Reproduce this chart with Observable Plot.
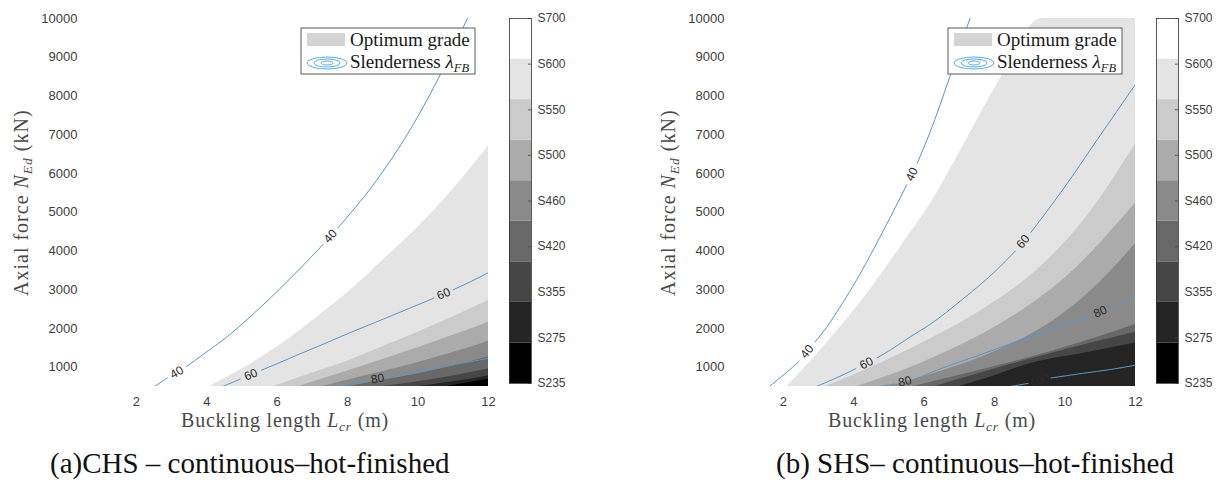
<!DOCTYPE html>
<html><head><meta charset="utf-8">
<script src="https://cdn.jsdelivr.net/npm/d3@7"></script>
<script src="https://cdn.jsdelivr.net/npm/@observablehq/plot@0.6"></script>
<style>
body{margin:0;background:#fff;}
#root{position:relative;width:1223px;height:480px;overflow:hidden;}
.abs{position:absolute;top:0;}
</style></head><body><div id="root"></div>
<script>
// ---------- data ----------
const lengthTicks = [2, 4, 6, 8, 10, 12];
const forceTicks = [1000, 2000, 3000, 4000, 5000, 6000, 7000, 8000, 9000, 10000];
const gradeLabels = ["S235","S275","S355","S420","S460","S500","S550","S600","S700"];
const gradeGreys = ["#000000","#242424","#464646","#686868","#8a8a8a","#ababab","#cbcbcb","#e4e4e4","#ffffff"];

// (a) CHS: upper edge of each optimum-grade zone (Lcr in m, NEd in kN)
const chsS600L = [4.08, 5.0, 6.16, 7.1, 8.07, 9.0, 9.98, 11.0, 12];
const chsS600N = [500, 950, 1620, 2270, 2980, 3760, 4600, 5600, 6710];
const chsS550L = [5.9, 7.0, 8.07, 9.0, 10.0, 11.0, 12];
const chsS550N = [500, 850, 1180, 1530, 1900, 2300, 2720];
const chsS500L = [6.6, 8.0, 9.0, 10.0, 11.0, 12];
const chsS500N = [500, 900, 1200, 1500, 1820, 2160];
const chsS460L = [7.3, 8.5, 9.5, 10.5, 11.3, 12];
const chsS460N = [500, 780, 1000, 1250, 1460, 1670];
const chsS420L = [8.0, 9.0, 10.0, 11.0, 12];
const chsS420N = [500, 660, 830, 1030, 1260];
const chsS355L = [9.0, 10.0, 11.0, 12];
const chsS355N = [500, 620, 770, 950];
const chsS275L = [10.0, 11.0, 12];
const chsS275N = [500, 620, 770];
const chsS235L = [10.8, 11.4, 12];
const chsS235N = [500, 600, 690];

// (a) CHS slenderness contours (null = gap holding the level label)
const chsL40 = [2.51, 2.88, null, 3.42, 3.9, 4.6, 5.22, 5.8, 6.36, 7.13, 7.3, null, 7.72, 8.07, 8.64, 9.0, 9.69, 10.0, 10.63, 11.4];
const chsN40 = [500, 720, null, 1010, 1330, 1800, 2290, 2780, 3280, 4000, 4165, null, 4590, 4960, 5600, 6050, 7000, 7480, 8550, 10000];
const chsL60 = [4.45, 4.95, null, 5.55, 6.0, 6.64, 7.3, 8.07, 8.8, 9.49, 10.45, null, 11.0, 11.5, 12];
const chsN60 = [500, 690, null, 920, 1090, 1340, 1590, 1890, 2160, 2420, 2780, null, 3000, 3210, 3440];
const chsL80 = [7.8, 8.5, null, 9.2, 9.6, 10.4, 11.2, 12];
const chsN80 = [500, 640, null, 760, 830, 960, 1090, 1230];

// (b) SHS: upper edge of each optimum-grade zone
const shsS600L = [2.1, 3.3, 4.45, 5.4, 6.2, 7.1, 8.1, 9.35, 12];
const shsS600N = [500, 1690, 2980, 4200, 5250, 6700, 8350, 10000, 10000];
const shsS550L = [3.2, 4.5, 6.0, 7.5, 9.0, 10.5, 12];
const shsS550N = [500, 1000, 1650, 2400, 3350, 4750, 6760];
const shsS500L = [4.1, 5.5, 7.0, 8.5, 10.0, 12];
const shsS500N = [500, 950, 1550, 2300, 3300, 5240];
const shsS460L = [5.0, 6.5, 8.0, 9.5, 11.0, 12];
const shsS460N = [500, 900, 1400, 2100, 3200, 4190];
const shsS420L = [5.7, 7.5, 9.0, 10.5, 12];
const shsS420N = [500, 900, 1250, 1650, 2100];
const shsS355L = [6.3, 8.0, 10.0, 12];
const shsS355N = [500, 950, 1450, 1900];
const shsS275L = [7.0, 8.0, 9.05, 10.5, 12];
const shsS275N = [500, 780, 1100, 1350, 1620];

// (b) SHS slenderness contours
const shsL40 = [1.6, 2.1, 2.45, null, 2.9, 3.23, 3.7, 4.08, 4.74, 5.1, 5.5, null, 5.8, 6.16, 6.73, 7.3];
const shsN40 = [500, 870, 1150, null, 1650, 2030, 2680, 3250, 4350, 4980, 5700, null, 6260, 7050, 8500, 10000];
const shsL60 = [2.94, 3.5, 4.06, null, 4.66, 5.02, 5.6, 6.16, 7.1, 8.07, 8.59, null, 9.03, 9.49, 9.95, 10.92, 12];
const shsN60 = [500, 720, 960, null, 1240, 1430, 1780, 2100, 2760, 3520, 4000, null, 4480, 5030, 5600, 6880, 8300];
const shsL80 = [4.74, 5.15, null, 5.75, 6.44, 7.5, 8.5, 9.5, 10.68, null, 11.32, 12];
const shsN80 = [500, 565, null, 690, 950, 1290, 1620, 1950, 2300, null, 2560, 2860];
const shsL100 = [8.44, 8.95, null, 9.6, 10.5, 11.3, 12];
const shsN100 = [500, 580, null, 720, 840, 940, 1050];

// ---------- layout ----------
const W = 500, H = 440, ML = 83, MR = 12, MT = 18, MB = 54;
const xDom = [0.5, 12], yDom = [500, 10000];
const kx = (W - ML - MR) / (xDom[1] - xDom[0]);
const ky = (H - MT - MB) / (yDom[1] - yDom[0]);
const lineColor = "#5a96c4";
const serif = "'Liberation Serif', 'Times New Roman', serif";
const sans = "'Liberation Sans', Arial, sans-serif";

function zoneRows(grade, L, N) { return L.map((l, i) => ({L: l, N: N[i], grade})); }
function contour(level, L, N) {
  const pts = L.map((l, i) => ({L: l, N: N[i]}));
  const labels = [];
  for (let i = 1; i < pts.length - 1; i++) {
    if (pts[i].N == null) {
      const a = pts[i - 1], b = pts[i + 1];
      labels.push({L: (a.L + b.L) / 2, N: (a.N + b.N) / 2, t: String(level),
        r: Math.atan2(-(b.N - a.N) * ky, (b.L - a.L) * kx) * 180 / Math.PI});
    }
  }
  return {pts, labels};
}

function mainPlot(zones, contours) {
  const labels = contours.flatMap(c => c.labels);
  const chart = Plot.plot({
    width: W, height: H, marginLeft: ML, marginRight: MR, marginTop: MT, marginBottom: MB,
    style: {fontFamily: sans, fontSize: "13px", color: "#404040", background: "transparent"},
    x: {domain: xDom, ticks: lengthTicks, tickSize: 0, tickPadding: 10, label: null},
    y: {domain: yDom, ticks: forceTicks, tickSize: 0, tickPadding: 6, tickFormat: d3.format("d"), label: null},
    color: {type: "ordinal", domain: gradeLabels, range: gradeGreys},
    marks: [
      ...zones.map(z => Plot.areaY(z, {x: "L", y1: yDom[0], y2: "N", fill: "grade", curve: "monotone-x", clip: true})),
      ...contours.map(c => Plot.line(c.pts, {x: "L", y: "N", stroke: lineColor, strokeWidth: 1, curve: "monotone-x", clip: true})),
      Plot.text(labels, {x: "L", y: "N", text: "t", rotate: "r", fontSize: 12, fill: "#2b2b2b", fontFamily: sans, clip: true})
    ]
  });
  const svg = d3.select(chart);
  // legend
  const g = svg.append("g").attr("text-anchor", "start");
  g.append("rect").attr("x", 301).attr("y", 28).attr("width", 174).attr("height", 46)
    .attr("fill", "#fff").attr("stroke", "#5a5a5a").attr("stroke-width", 1);
  g.append("rect").attr("x", 307).attr("y", 33).attr("width", 38).attr("height", 13).attr("fill", "#d4d4d4");
  [[20, 6], [13, 4], [6, 2]].forEach(([rx, ry]) =>
    g.append("ellipse").attr("cx", 327).attr("cy", 63).attr("rx", rx).attr("ry", ry)
      .attr("fill", "none").attr("stroke", "#5aaee0").attr("stroke-width", 1));
  g.append("text").attr("x", 350).attr("y", 46).attr("font-family", serif).attr("font-size", 19)
    .attr("fill", "#1a1a1a").text("Optimum grade");
  const t2 = g.append("text").attr("x", 350).attr("y", 68).attr("font-family", serif).attr("font-size", 19).attr("fill", "#1a1a1a");
  t2.append("tspan").text("Slenderness ");
  t2.append("tspan").attr("font-style", "italic").text("λ");
  t2.append("tspan").attr("font-style", "italic").attr("font-size", 12.5).attr("dy", 4).text("FB");
  // axis titles
  const yt = svg.append("text").attr("text-anchor", "start").attr("transform", "translate(28,296) rotate(-90)")
    .attr("font-family", serif).attr("font-size", 20).attr("letter-spacing", 1).attr("fill", "#4a4a4a");
  yt.append("tspan").text("Axial force ");
  yt.append("tspan").attr("font-style", "italic").text("N");
  yt.append("tspan").attr("font-style", "italic").attr("font-size", 13.5).attr("dy", 4).text("Ed");
  yt.append("tspan").attr("dy", -4).text(" (kN)");
  const xt = svg.append("text").attr("text-anchor", "start").attr("x", 181).attr("y", 427)
    .attr("font-family", serif).attr("font-size", 20).attr("letter-spacing", 0.8).attr("fill", "#4a4a4a");
  xt.append("tspan").text("Buckling length ");
  xt.append("tspan").attr("font-style", "italic").text("L");
  xt.append("tspan").attr("font-style", "italic").attr("font-size", 13.5).attr("dy", 4).text("cr");
  xt.append("tspan").attr("dy", -4).text(" (m)");
  return chart;
}

function colorBar() {
  const idx = gradeLabels.map((d, i) => i);
  const n = gradeLabels.length;
  return Plot.plot({
    width: 80, height: H, marginLeft: 9, marginRight: 49, marginTop: 18, marginBottom: H - 383,
    style: {fontFamily: sans, fontSize: "12px", color: "#404040", background: "transparent"},
    x: {domain: [0, 1], axis: null},
    y: {domain: [0, n - 1], ticks: idx, tickFormat: i => gradeLabels[i], tickSize: 0, tickPadding: 6, axis: "right", label: null},
    color: {type: "ordinal", domain: gradeLabels, range: gradeGreys},
    marks: [
      Plot.rect(gradeLabels, {x1: 0, x2: 1, y1: (d, i) => i * (n - 1) / n, y2: (d, i) => (i + 1) * (n - 1) / n, fill: d => d}),
      Plot.ruleY(idx, {y: d => d, x1: 0.86, x2: 1, stroke: "#444", strokeWidth: 0.8}),
      Plot.frame({stroke: "#333", strokeWidth: 0.8})
    ]
  });
}

function panel(left, zones, contours) {
  const host = document.createElement("div");
  host.className = "abs"; host.style.left = left + "px";
  host.style.width = "600px"; host.style.height = "480px";
  const m = mainPlot(zones, contours); m.style.position = "absolute"; m.style.left = "0px"; m.style.top = "0px";
  const cb = colorBar(); cb.style.position = "absolute"; cb.style.left = "500px"; cb.style.top = "0px";
  host.appendChild(m); host.appendChild(cb);
  document.getElementById("root").appendChild(host);
}

panel(0, [
  zoneRows("S600", chsS600L, chsS600N), zoneRows("S550", chsS550L, chsS550N),
  zoneRows("S500", chsS500L, chsS500N), zoneRows("S460", chsS460L, chsS460N),
  zoneRows("S420", chsS420L, chsS420N), zoneRows("S355", chsS355L, chsS355N),
  zoneRows("S275", chsS275L, chsS275N), zoneRows("S235", chsS235L, chsS235N)
], [contour(40, chsL40, chsN40), contour(60, chsL60, chsN60), contour(80, chsL80, chsN80)]);

panel(647, [
  zoneRows("S600", shsS600L, shsS600N), zoneRows("S550", shsS550L, shsS550N),
  zoneRows("S500", shsS500L, shsS500N), zoneRows("S460", shsS460L, shsS460N),
  zoneRows("S420", shsS420L, shsS420N), zoneRows("S355", shsS355L, shsS355N),
  zoneRows("S275", shsS275L, shsS275N)
], [contour(40, shsL40, shsN40), contour(60, shsL60, shsN60), contour(80, shsL80, shsN80), contour(100, shsL100, shsN100)]);

// captions
const cap = d3.select("#root").append("svg").attr("class", "abs").attr("width", 1223).attr("height", 480)
  .style("left", "0px").style("pointer-events", "none");
cap.append("text").attr("x", 50).attr("y", 473).attr("font-family", serif).attr("font-size", 29).attr("fill", "#111")
  .text("(a)CHS – continuous–hot-finished");
cap.append("text").attr("x", 776).attr("y", 473).attr("font-family", serif).attr("font-size", 29).attr("fill", "#111")
  .text("(b) SHS– continuous–hot-finished");
</script></body></html>
